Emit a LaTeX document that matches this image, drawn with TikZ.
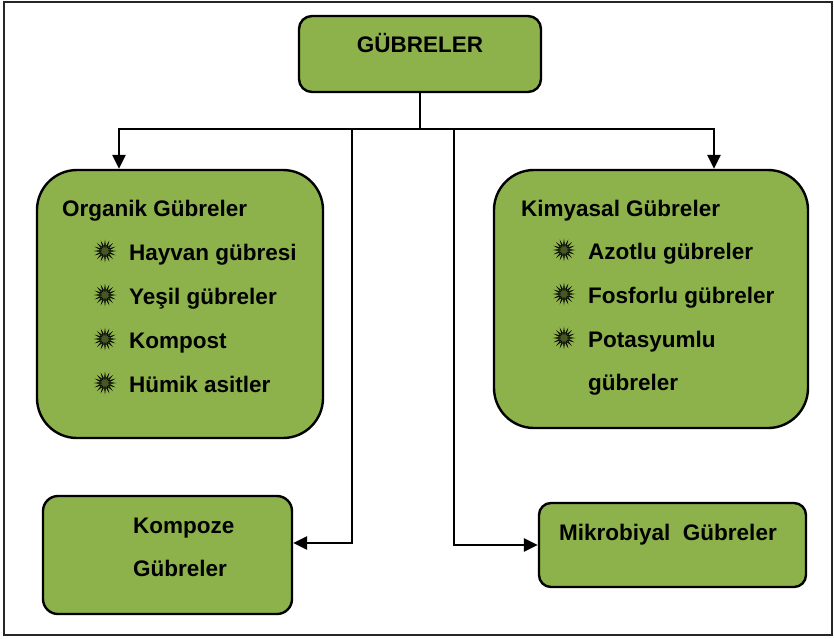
\documentclass[tikz,border=0pt]{standalone}
\usepackage{fontspec}
\setmainfont{Liberation Sans}
\usetikzlibrary{shapes.geometric,arrows.meta}
\definecolor{boxgreen}{RGB}{141,178,75}
\definecolor{bulletgreen}{RGB}{70,88,36}
\tikzset{
  box/.style={draw=black, line width=2.4pt, fill=boxgreen, inner sep=0pt},
  conn/.style={draw=black, line width=2.6pt},
  arr/.style={conn, -{Triangle[length=14pt,width=13pt]}},
  lbl/.style={anchor=base west, inner sep=0pt, font=\fontsize{22.5}{26}\selectfont\bfseries},
  starb/.style={star, star points=16, star point ratio=2.4, minimum size=19pt, inner sep=0pt,
    fill=bulletgreen, draw=black, line width=0.5pt}
}
\begin{document}
\begin{tikzpicture}[x=1pt,y=-1pt]
\useasboundingbox (0,0) rectangle (834,638);
\draw[line width=1.6pt, draw=black!85] (4,2) rectangle (832,635);

% boxes
\node[box, rounded corners=13pt, minimum width=242pt, minimum height=76pt] (top) at (420,54) {};
\node[box, rounded corners=40pt, minimum width=286pt, minimum height=268pt] (org) at (180,304) {};
\node[box, rounded corners=40pt, minimum width=314pt, minimum height=258pt] (kim) at (651,299) {};
\node[box, rounded corners=15pt, minimum width=249pt, minimum height=118pt] (komp) at (167.5,555) {};
\node[box, rounded corners=12pt, minimum width=267pt, minimum height=84pt] (mik) at (672.5,545) {};

% texts
\node[lbl, anchor=base] (tt) at (420,52) {GÜBRELER};

\node[lbl] (o0) at (62,216) {Organik Gübreler};
\node[lbl] (o1) at (129,260) {Hayvan gübresi};
\node[lbl] (o2) at (129,304) {Yeşil gübreler};
\node[lbl] (o3) at (129,348) {Kompost};
\node[lbl] (o4) at (129,392) {Hümik asitler};
\node[starb] (ob1) at (105,251) {};
\node[starb] (ob2) at (105,295) {};
\node[starb] (ob3) at (105,339) {};
\node[starb] (ob4) at (105,383) {};

\node[lbl] (k0) at (521,216) {Kimyasal Gübreler};
\node[lbl] (k1) at (588,259) {Azotlu gübreler};
\node[lbl] (k2) at (588,303) {Fosforlu gübreler};
\node[lbl] (k3) at (588,347) {Potasyumlu};
\node[lbl] (k4) at (588,390) {gübreler};
\node[starb] (kb1) at (564,250) {};
\node[starb] (kb2) at (564,294) {};
\node[starb] (kb3) at (564,338) {};

\node[lbl] (c1) at (133,533) {Kompoze};
\node[lbl] (c2) at (133,576) {Gübreler};

\node[lbl] (m1) at (559,540) {Mikrobiyal\ \ Gübreler};

% connectors
\coordinate (j) at (top.south |- 0,129);
\coordinate (hl) at (119,129);
\coordinate (hr) at (714,129);
\coordinate (cl) at (352,129);
\coordinate (cr) at (454,129);
\draw[conn] (top.south) -- (j);
\draw[conn, line cap=rect] (hl) -- (hr);
\draw[arr] (hl) -- (hl |- org.north);
\draw[arr] (hr) -- (hr |- kim.north);
\draw[arr] (cl) |- ([yshift=12pt]komp.east);
\draw[arr] (cr) |- (mik.west);
\end{tikzpicture}
\end{document}
